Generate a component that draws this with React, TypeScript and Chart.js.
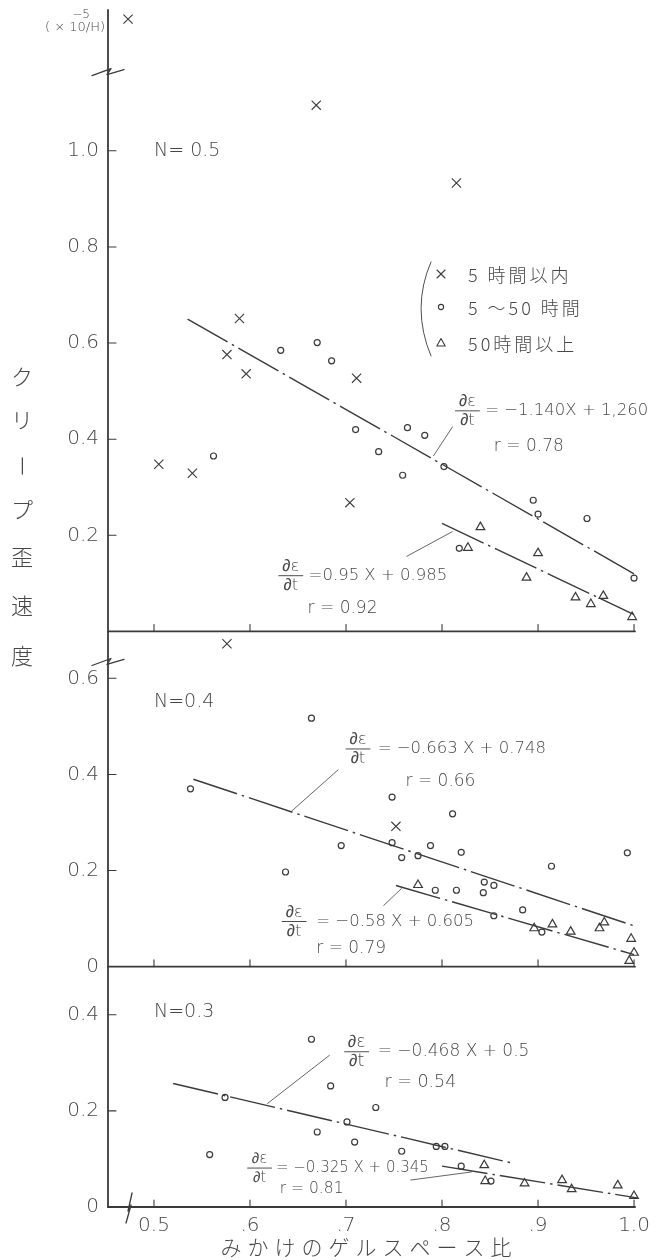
import React, { useEffect, useRef } from 'react';
import { Chart, registerables } from 'chart.js';

Chart.register(...registerables);

// ---------- styling ----------
const INK = '#3a3a3a';
const TEXT = '#474747';
const LATIN = '"DejaVu Sans", "Liberation Sans", sans-serif';
const CJK = '"Noto Sans CJK JP", "Noto Sans", sans-serif';

// ---------- axes ----------
const X_MIN = 0.4521;
const X_MAX = 1.001;
const X_TICKS = [0.5, 0.6, 0.7, 0.8, 0.9, 1.0];
const X_TICK_LABELS = ['0.5', '.6', '.7', '.8', '.9', '1.0'];

const Y1_MAX = 1.293; // N=0.5 panel
const Y2_MAX = 0.6975; // N=0.4 panel
const Y3_MAX = 0.5; // N=0.3 panel
const Y1_TICKS = [0.2, 0.4, 0.6, 0.8, 1.0];
const Y1_TICK_LABELS = ['0.2', '0.4', '0.6', '0.8', '1.0'];
const Y2_TICKS = [0, 0.2, 0.4, 0.6];
const Y2_TICK_LABELS = ['0', '0.2', '0.4', '0.6'];
const Y3_TICKS = [0, 0.2, 0.4];
const Y3_TICK_LABELS = ['0', '0.2', '0.4'];

const PANEL_LABELS = ['N= 0.5', 'N=0.4', 'N=0.3'];
const LEGEND_LABELS = ['5 時間以内', '5 ～50 時間', '50時間以上'];
const Y_TITLE = 'クリープ歪速度';
const X_TITLE = 'みかけのゲルスペース比';
const UNIT_LABEL = '( × 10/H)';
const UNIT_EXP = '−5';

// ---------- N = 0.5 ----------
const N05_WITHIN5H_X = [0.473, 0.669, 0.815, 0.589, 0.576, 0.596, 0.711, 0.505, 0.540, 0.704];
const N05_WITHIN5H_Y = [1.274, 1.095, 0.933, 0.651, 0.576, 0.536, 0.527, 0.348, 0.329, 0.268];
const N05_5TO50H_X = [0.562, 0.632, 0.670, 0.685, 0.710, 0.734, 0.764, 0.782, 0.759, 0.802, 0.895, 0.900, 0.951, 1.000, 0.818];
const N05_5TO50H_Y = [0.365, 0.585, 0.601, 0.563, 0.420, 0.374, 0.424, 0.408, 0.325, 0.343, 0.273, 0.244, 0.235, 0.111, 0.173];
const N05_OVER50H_X = [0.827, 0.840, 0.900, 0.888, 0.939, 0.955, 0.968, 0.998];
const N05_OVER50H_Y = [0.174, 0.217, 0.163, 0.112, 0.071, 0.057, 0.074, 0.030];
const N05_FIT_A_X = [0.535, 1.0];
const N05_FIT_A_Y = [0.650, 0.120];
const N05_FIT_B_X = [0.80, 1.0];
const N05_FIT_B_Y = [0.225, 0.035];
const N05_LEAD_A_X = [0.791, 0.811];
const N05_LEAD_A_Y = [0.365, 0.426];
const N05_LEAD_B_X = [0.763, 0.811];
const N05_LEAD_B_Y = [0.156, 0.208];

// ---------- N = 0.4 ----------
const N04_WITHIN5H_X = [0.576, 0.752];
const N04_WITHIN5H_Y = [0.672, 0.292];
const N04_5TO50H_X = [0.538, 0.664, 0.748, 0.695, 0.637, 0.748, 0.758, 0.775, 0.788, 0.811, 0.820, 0.914, 0.993, 0.793, 0.815, 0.844, 0.854, 0.843, 0.854, 0.884, 0.904];
const N04_5TO50H_Y = [0.370, 0.517, 0.353, 0.252, 0.197, 0.258, 0.227, 0.231, 0.252, 0.318, 0.238, 0.209, 0.237, 0.159, 0.159, 0.176, 0.169, 0.154, 0.106, 0.118, 0.072];
const N04_OVER50H_X = [0.775, 0.896, 0.915, 0.934, 0.964, 0.969, 0.997, 1.000, 0.995];
const N04_OVER50H_Y = [0.170, 0.080, 0.088, 0.073, 0.080, 0.092, 0.058, 0.029, 0.012];
const N04_FIT_A_X = [0.541, 1.0];
const N04_FIT_A_Y = [0.390, 0.085];
const N04_FIT_B_X = [0.752, 1.0];
const N04_FIT_B_Y = [0.169, 0.025];
const N04_LEAD_A_X = [0.643, 0.692];
const N04_LEAD_A_Y = [0.323, 0.410];
const N04_LEAD_B_X = [0.758, 0.739];
const N04_LEAD_B_Y = [0.163, 0.127];

// ---------- N = 0.3 ----------
const N03_5TO50H_X = [0.558, 0.574, 0.664, 0.684, 0.731, 0.701, 0.670, 0.709, 0.758, 0.794, 0.803, 0.820, 0.851];
const N03_5TO50H_Y = [0.109, 0.228, 0.349, 0.252, 0.207, 0.177, 0.156, 0.135, 0.116, 0.126, 0.126, 0.085, 0.054];
const N03_OVER50H_X = [0.844, 0.845, 0.886, 0.925, 0.935, 0.983, 1.000];
const N03_OVER50H_Y = [0.087, 0.054, 0.049, 0.056, 0.037, 0.045, 0.023];
const N03_FIT_A_X = [0.52, 0.872];
const N03_FIT_A_Y = [0.257, 0.092];
const N03_FIT_B_X = [0.80, 1.003];
const N03_FIT_B_Y = [0.085, 0.019];
const N03_LEAD_A_X = [0.618, 0.683];
const N03_LEAD_A_Y = [0.215, 0.316];
const N03_LEAD_B_X = [0.767, 0.831];
const N03_LEAD_B_Y = [0.056, 0.073];

// ---------- regression annotations ----------
const EQUATIONS = [
  { axis: 'y1', fx: 0.8265, by: 0.459, tx: 0.845, text: '= −1.140X + 1,260', size: 16.5, r: 'r = 0.78', rx: 0.854, ry: 0.384 },
  { axis: 'y1', fx: 0.6425, by: 0.116, tx: 0.661, text: '=0.95 X + 0.985', size: 16.5, r: 'r = 0.92', rx: 0.660, ry: 0.048 },
  { axis: 'y2', fx: 0.7125, by: 0.453, tx: 0.733, text: '= −0.663 X + 0.748', size: 16.5, r: 'r = 0.66', rx: 0.762, ry: 0.386 },
  { axis: 'y2', fx: 0.646, by: 0.094, tx: 0.669, text: '= −0.58 X + 0.605', size: 16.5, r: 'r = 0.79', rx: 0.669, ry: 0.038 },
  { axis: 'y3', fx: 0.711, by: 0.323, tx: 0.733, text: '= −0.468 X + 0.5', size: 17, r: 'r = 0.54', rx: 0.740, ry: 0.259 },
  { axis: 'y3', fx: 0.610, by: 0.081, tx: 0.627, text: '= −0.325 X + 0.345', size: 15, r: 'r = 0.81', rx: 0.631, ry: 0.037 },
];
const PANEL_LABEL_POS = [
  { axis: 'y1', x: 0.5, y: 1.0 },
  { axis: 'y2', x: 0.5, y: 0.55 },
  { axis: 'y3', x: 0.5, y: 0.406 },
];

const toPts = (xs: number[], ys: number[]) => xs.map((x, i) => ({ x, y: ys[i] }));

const markerBase = {
  showLine: false,
  borderColor: INK,
  backgroundColor: 'rgba(0,0,0,0)',
  borderWidth: 1.2,
  clip: false as const,
};
const crosses = (xs: number[], ys: number[], axis: string) => ({
  ...markerBase, label: LEGEND_LABELS[0], data: toPts(xs, ys), yAxisID: axis,
  pointStyle: 'crossRot', pointRadius: 6.5, borderWidth: 1.1,
});
const circles = (xs: number[], ys: number[], axis: string) => ({
  ...markerBase, label: LEGEND_LABELS[1], data: toPts(xs, ys), yAxisID: axis,
  pointStyle: 'circle', pointRadius: 3,
});
const triangles = (xs: number[], ys: number[], axis: string) => ({
  ...markerBase, label: LEGEND_LABELS[2], data: toPts(xs, ys), yAxisID: axis,
  pointStyle: 'triangle', pointRadius: 5,
});
const fitLine = (xs: number[], ys: number[], axis: string) => ({
  label: 'fit', data: toPts(xs, ys), yAxisID: axis, showLine: true, pointRadius: 0,
  borderColor: INK, borderWidth: 1.4, borderDash: [46, 5, 2.5, 5], fill: false, clip: false as const,
});
const leader = (xs: number[], ys: number[], axis: string) => ({
  label: 'leader', data: toPts(xs, ys), yAxisID: axis, showLine: true, pointRadius: 0,
  borderColor: '#555', borderWidth: 0.9, fill: false, clip: false as const,
});

function seg(ctx: CanvasRenderingContext2D, x1: number, y1: number, x2: number, y2: number) {
  ctx.beginPath();
  ctx.moveTo(x1, y1);
  ctx.lineTo(x2, y2);
  ctx.stroke();
}
function poly(ctx: CanvasRenderingContext2D, x: number, y: number, pts: number[][]) {
  ctx.beginPath();
  pts.forEach((p, i) => (i === 0 ? ctx.moveTo(x + p[0], y + p[1]) : ctx.lineTo(x + p[0], y + p[1])));
  ctx.stroke();
}

const decorPlugin = {
  id: 'decor',
  afterDraw(chart: any) {
    const ctx: CanvasRenderingContext2D = chart.ctx;
    const { left, right, top, bottom } = chart.chartArea;
    const xs = chart.scales.x;
    const panels = [
      { s: chart.scales.y1, ticks: Y1_TICKS },
      { s: chart.scales.y2, ticks: Y2_TICKS },
      { s: chart.scales.y3, ticks: Y3_TICKS },
    ];
    ctx.save();
    ctx.strokeStyle = INK;
    ctx.lineCap = 'round';
    ctx.lineJoin = 'round';

    // main vertical axis
    ctx.lineWidth = 1.8;
    seg(ctx, left, top, left, bottom);

    for (const p of panels) {
      const y0 = p.s.getPixelForValue(0);
      ctx.lineWidth = 1.8;
      seg(ctx, left, y0, right, y0);
      ctx.lineWidth = 1.1;
      for (const v of X_TICKS) {
        const x = xs.getPixelForValue(v);
        seg(ctx, x, y0, x, y0 - 7);
      }
      for (const v of p.ticks) {
        if (v === 0) continue;
        const y = p.s.getPixelForValue(v);
        seg(ctx, left, y, left + 8, y);
      }
    }

    // axis break marks
    ctx.lineWidth = 1.3;
    const zig = [[-16, 4], [3, -3], [-1, 3], [16, -2]];
    poly(ctx, left, panels[0].s.getPixelForValue(1.165), zig);
    poly(ctx, left, panels[1].s.getPixelForValue(0.635), zig);
    poly(ctx, xs.getPixelForValue(0.474), bottom, [[3, -14], [-1, 4], [2, -2], [-3, 16]]);

    // panel labels
    ctx.fillStyle = TEXT;
    ctx.textBaseline = 'middle';
    ctx.textAlign = 'left';
    ctx.font = `200 19px ${LATIN}`;
    PANEL_LABEL_POS.forEach((p, i) => {
      ctx.fillText(PANEL_LABELS[i], xs.getPixelForValue(p.x), chart.scales[p.axis].getPixelForValue(p.y));
    });

    // regression equations
    for (const e of EQUATIONS) {
      const s = chart.scales[e.axis];
      const cx = xs.getPixelForValue(e.fx);
      const by = s.getPixelForValue(e.by);
      ctx.font = `200 ${e.size}px ${LATIN}`;
      ctx.textAlign = 'center';
      ctx.fillText('∂ε', cx, by - 9);
      ctx.fillText('∂t', cx, by + 10);
      ctx.lineWidth = 0.9;
      seg(ctx, cx - 12, by, cx + 12, by);
      ctx.textAlign = 'left';
      ctx.font = `200 ${e.size}px ${LATIN}`;
      ctx.fillText(e.text, xs.getPixelForValue(e.tx), by);
      ctx.font = `200 ${e.size + 0.5}px ${LATIN}`;
      ctx.fillText(e.r, xs.getPixelForValue(e.rx), s.getPixelForValue(e.ry));
    }

    // legend (bracketed key)
    ctx.lineWidth = 0.9;
    ctx.beginPath();
    ctx.moveTo(431, 262);
    ctx.quadraticCurveTo(411, 308, 431, 356);
    ctx.stroke();
    ctx.lineWidth = 1.1;
    const lx = 441;
    seg(ctx, lx - 4, 270, lx + 4, 278);
    seg(ctx, lx - 4, 278, lx + 4, 270);
    ctx.beginPath();
    ctx.arc(lx, 307, 2.6, 0, Math.PI * 2);
    ctx.stroke();
    ctx.beginPath();
    ctx.moveTo(lx, 338.5);
    ctx.lineTo(lx + 4.2, 346);
    ctx.lineTo(lx - 4.2, 346);
    ctx.closePath();
    ctx.stroke();
    ctx.font = `300 18px ${CJK}`;
    (ctx as any).letterSpacing = '3px';
    const rows = [275, 308, 344];
    LEGEND_LABELS.forEach((t, i) => ctx.fillText(t, 468, rows[i]));
    (ctx as any).letterSpacing = '0px';

    // unit label
    ctx.font = `200 12px ${LATIN}`;
    ctx.textAlign = 'center';
    ctx.fillText(UNIT_EXP, 81, 15);
    ctx.font = `200 13px ${LATIN}`;
    ctx.textAlign = 'left';
    ctx.fillText(UNIT_LABEL, 45, 28);

    // y title (vertical writing)
    ctx.font = `300 22px ${CJK}`;
    ctx.textAlign = 'center';
    const yPos = [377, 420, 466, 510, 557, 606, 656];
    Array.from(Y_TITLE).forEach((ch, i) => {
      if (ch === 'ー') {
        ctx.save();
        ctx.translate(22, yPos[i]);
        ctx.rotate(Math.PI / 2);
        ctx.fillText(ch, 0, 0);
        ctx.restore();
      } else {
        ctx.fillText(ch, 22, yPos[i]);
      }
    });

    // x title
    ctx.font = `300 21px ${CJK}`;
    (ctx as any).letterSpacing = '6px';
    ctx.textAlign = 'center';
    ctx.fillText(X_TITLE, 369, 1247);
    (ctx as any).letterSpacing = '0px';

    ctx.restore();
  },
};

const tickFont = { family: LATIN, size: 20, weight: '200' as any };

const yAxis = (max: number, ticks: number[], labels: string[], weight: number, stackWeight: number) => ({
  type: 'linear' as const,
  position: 'left' as const,
  stack: 'panels',
  stackWeight,
  weight,
  min: 0,
  max,
  grid: { display: false, drawTicks: false },
  border: { display: false },
  afterBuildTicks: (s: any) => {
    s.ticks = ticks.map((v) => ({ value: v }));
  },
  ticks: {
    autoSkip: false,
    padding: 9,
    color: TEXT,
    font: tickFont,
    callback: (_v: any, i: number) => labels[i],
  },
  afterFit: (s: any) => {
    s.width = 108;
    s.paddingTop = 0;
    s.paddingBottom = 0;
  },
});

export default function App() {
  const ref = useRef<HTMLCanvasElement | null>(null);

  useEffect(() => {
    if (!ref.current) return;
    const chart = new Chart(ref.current, {
      type: 'scatter',
      data: {
        datasets: [
          fitLine(N05_FIT_A_X, N05_FIT_A_Y, 'y1'),
          fitLine(N05_FIT_B_X, N05_FIT_B_Y, 'y1'),
          leader(N05_LEAD_A_X, N05_LEAD_A_Y, 'y1'),
          leader(N05_LEAD_B_X, N05_LEAD_B_Y, 'y1'),
          crosses(N05_WITHIN5H_X, N05_WITHIN5H_Y, 'y1'),
          circles(N05_5TO50H_X, N05_5TO50H_Y, 'y1'),
          triangles(N05_OVER50H_X, N05_OVER50H_Y, 'y1'),

          fitLine(N04_FIT_A_X, N04_FIT_A_Y, 'y2'),
          fitLine(N04_FIT_B_X, N04_FIT_B_Y, 'y2'),
          leader(N04_LEAD_A_X, N04_LEAD_A_Y, 'y2'),
          leader(N04_LEAD_B_X, N04_LEAD_B_Y, 'y2'),
          crosses(N04_WITHIN5H_X, N04_WITHIN5H_Y, 'y2'),
          circles(N04_5TO50H_X, N04_5TO50H_Y, 'y2'),
          triangles(N04_OVER50H_X, N04_OVER50H_Y, 'y2'),

          fitLine(N03_FIT_A_X, N03_FIT_A_Y, 'y3'),
          fitLine(N03_FIT_B_X, N03_FIT_B_Y, 'y3'),
          leader(N03_LEAD_A_X, N03_LEAD_A_Y, 'y3'),
          leader(N03_LEAD_B_X, N03_LEAD_B_Y, 'y3'),
          circles(N03_5TO50H_X, N03_5TO50H_Y, 'y3'),
          triangles(N03_OVER50H_X, N03_OVER50H_Y, 'y3'),
        ] as any,
      },
      options: {
        responsive: false,
        animation: false,
        events: [],
        layout: { padding: { top: 10, left: 0, right: 30, bottom: 23 } },
        plugins: { legend: { display: false }, tooltip: { enabled: false } },
        scales: {
          x: {
            type: 'linear',
            position: 'bottom',
            min: X_MIN,
            max: X_MAX,
            grid: { display: false, drawTicks: false },
            border: { display: false },
            afterBuildTicks: (s: any) => {
              s.ticks = X_TICKS.map((v) => ({ value: v }));
            },
            ticks: {
              autoSkip: false,
              maxRotation: 0,
              padding: 7,
              color: TEXT,
              font: tickFont,
              callback: (_v: any, i: number) => X_TICK_LABELS[i],
            },
            afterFit: (s: any) => {
              s.height = 30;
              s.paddingLeft = 0;
              s.paddingRight = 0;
            },
          },
          y1: yAxis(Y1_MAX, Y1_TICKS, Y1_TICK_LABELS, 3, Y1_MAX),
          y2: yAxis(Y2_MAX, Y2_TICKS, Y2_TICK_LABELS, 2, Y2_MAX),
          y3: yAxis(Y3_MAX, Y3_TICKS, Y3_TICK_LABELS, 1, Y3_MAX),
        } as any,
      },
      plugins: [decorPlugin as any],
    });
    return () => chart.destroy();
  }, []);

  return (
    <div style={{ position: 'absolute', left: 0, top: 0, width: 665, height: 1260, background: '#fff' }}>
      <canvas ref={ref} width={665} height={1260} style={{ display: 'block' }} />
    </div>
  );
}
